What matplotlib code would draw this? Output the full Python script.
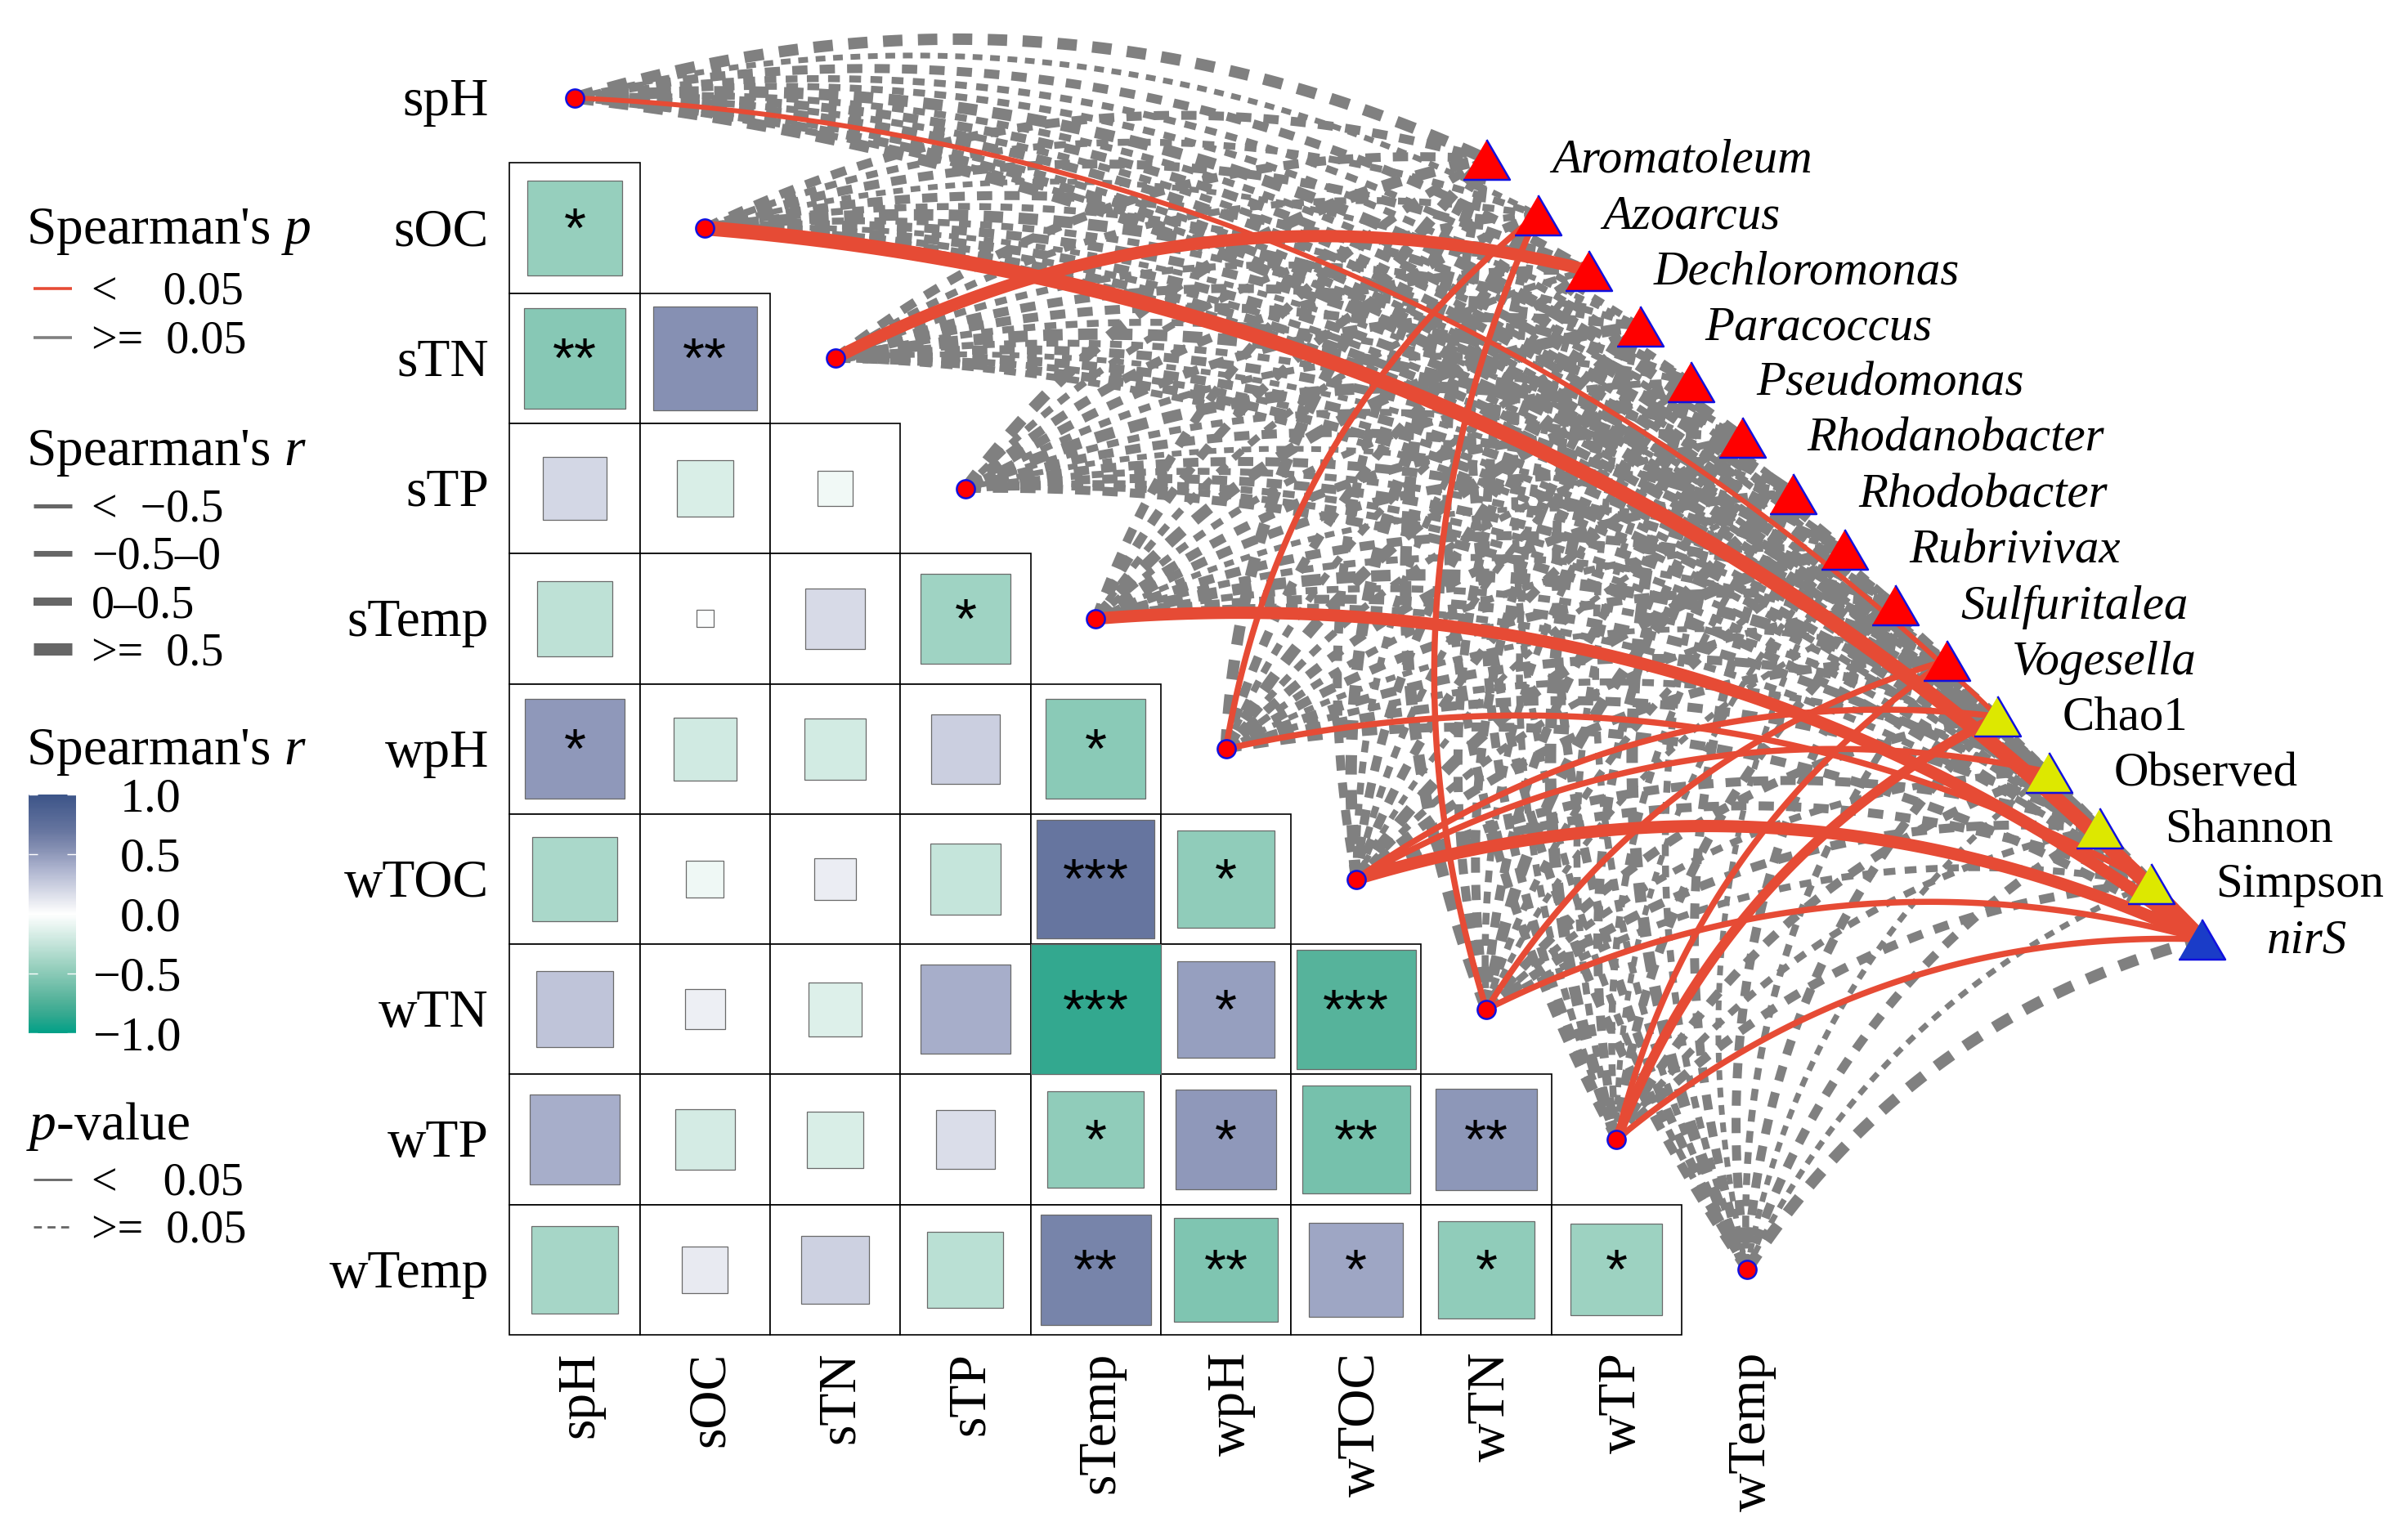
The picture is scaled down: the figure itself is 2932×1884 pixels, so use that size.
import numpy as np
import matplotlib
matplotlib.use("Agg")
import matplotlib.pyplot as plt
from matplotlib.colors import LinearSegmentedColormap, Normalize
from matplotlib.cm import ScalarMappable
from matplotlib.patches import Rectangle

plt.rcParams['font.family'] = ['Liberation Serif', 'DejaVu Serif']
plt.rcParams['mathtext.fontset'] = 'custom'
plt.rcParams['mathtext.it'] = 'Liberation Serif:italic'
plt.rcParams['mathtext.rm'] = 'Liberation Serif'

env = ['spH', 'sOC', 'sTN', 'sTP', 'sTemp', 'wpH', 'wTOC', 'wTN', 'wTP', 'wTemp']
taxa = ['Aromatoleum', 'Azoarcus', 'Dechloromonas', 'Paracoccus', 'Pseudomonas',
        'Rhodanobacter', 'Rhodobacter', 'Rubrivivax', 'Sulfuritalea', 'Vogesella',
        'Chao1', 'Observed', 'Shannon', 'Simpson', 'nirS']
taxa_kind = ['genus'] * 10 + ['index'] * 4 + ['gene']

r_values = [
    [],
    [-.45],
    [-.51, .54],
    [.20, -.16, -.06],
    [-.28, .015, .18, -.41],
    [.50, -.20, -.19, .24, -.50],
    [-.36, -.07, .086, -.25, .70, -.47],
    [.29, .08, -.145, .40, -.85, .47, -.716],
    [.40, -.18, -.16, .17, -.47, .50, -.58, .51],
    [-.38, .106, .23, -.29, .61, -.54, .44, -.47, -.42],
]
stars = [
    [],
    ['*'],
    ['**', '**'],
    ['', '', ''],
    ['', '', '', '*'],
    ['*', '', '', '', '*'],
    ['', '', '', '', '***', '*'],
    ['', '', '', '', '***', '*', '***'],
    ['', '', '', '', '*', '*', '**', '**'],
    ['', '', '', '', '**', '**', '*', '*', '*'],
]

# width class of each non-significant link (rows: env, columns: taxa)
link_width = [
    [4, 1, 3, 2, 2, 4, 2, 3, 2, 3, 1, 2, 3, 2, 4],
    [3, 2, 3, 1, 3, 2, 4, 2, 3, 1, 3, 2, 3, 2, 4],
    [3, 2, 4, 2, 3, 3, 2, 4, 2, 3, 1, 3, 2, 3, 2],
    [4, 2, 3, 3, 2, 4, 2, 3, 1, 3, 2, 3, 2, 2, 3],
    [3, 3, 2, 4, 2, 3, 3, 1, 3, 2, 4, 2, 3, 2, 4],
    [4, 2, 3, 2, 4, 2, 3, 2, 3, 1, 3, 2, 3, 2, 3],
    [3, 4, 2, 3, 2, 3, 1, 4, 2, 3, 2, 2, 3, 3, 4],
    [4, 2, 3, 3, 2, 3, 4, 2, 1, 2, 3, 2, 3, 2, 3],
    [3, 3, 2, 4, 2, 3, 2, 1, 3, 2, 4, 3, 2, 3, 2],
    [3, 2, 3, 2, 4, 2, 3, 1, 3, 2, 3, 1, 3, 1, 4],
]
# links with p < 0.05: (env, taxon, width class)
significant = [
    ('spH', 'Chao1', 1), ('sOC', 'nirS', 5), ('sTN', 'Dechloromonas', 4), ('sTemp', 'nirS', 4),
    ('wpH', 'Azoarcus', 2), ('wpH', 'Simpson', 2), ('wTOC', 'Chao1', 2), ('wTOC', 'Observed', 2),
    ('wTOC', 'nirS', 4), ('wTN', 'Azoarcus', 2), ('wTN', 'Vogesella', 2), ('wTN', 'nirS', 2),
    ('wTP', 'Vogesella', 2), ('wTP', 'Chao1', 3), ('wTP', 'nirS', 2),
]

W, H = 2932, 1884
DPI = 200
PX = 72 / DPI
fig = plt.figure(figsize=(W / DPI, H / DPI), dpi=DPI, facecolor='white')
ax = fig.add_axes([0, 0, 1, 1])
unit = 159.3
x0, y0 = 703.0, 119.7
ax.set_xlim(-x0 / unit, (W - x0) / unit)
ax.set_ylim((H - y0) / unit, -y0 / unit)
ax.axis('off')

RED, GREY, DARK = '#E64B35', '#808080', '#666666'
stops = [(-1, '#00A087'), (-.85, '#33A88F'), (-.716, '#56B39B'), (-.45, '#96CFBD'), (0, '#FFFFFF'),
         (.40, '#A8AFCB'), (.54, '#8791B4'), (.70, '#66759F'), (1, '#3C5488')]
cmap = LinearSegmentedColormap.from_list('r', [((v + 1) / 2, c) for v, c in stops])
norm = Normalize(-1, 1)
grey_lw = {1: 7 * PX, 2: 8.5 * PX, 3: 11 * PX, 4: 14 * PX}
red_lw = {1: 6 * PX, 2: 7.5 * PX, 3: 12 * PX, 4: 15 * PX, 5: 18 * PX}

# correlation matrix
for row, vals in enumerate(r_values):
    for col, r in enumerate(vals):
        ax.add_patch(Rectangle((col - .5, row - .5), 1, 1, fc='white', ec='black', lw=0.6, zorder=1))
for row, vals in enumerate(r_values):
    for col, r in enumerate(vals):
        side = min(1.0, np.sqrt(abs(r) / .85))
        ax.add_patch(Rectangle((col - side / 2, row - side / 2), side, side,
                               fc=cmap(norm(r)), ec='#6a6a6a', lw=0.45, zorder=2))
        if stars[row][col]:
            ax.text(col, row + .03, stars[row][col], family='Liberation Sans', fontsize=25,
                    ha='center', va='center', zorder=3)

for i, name in enumerate(env):
    ax.text(-.66, i + .035, name, ha='right', va='center', fontsize=23.6)
    ax.text(i + .04, 9.63, name, ha='center', va='top', rotation=90, fontsize=23.6)

# link layout
env_x = np.arange(len(env), dtype=float)
env_y = np.arange(len(env), dtype=float)
taxa_x = 7.0 + .3925 * np.arange(len(taxa))
taxa_y = .47 + .428 * np.arange(len(taxa))


def arc(x1, y1, x2, y2, bend=.095):
    t = np.linspace(0, 1, 120)[:, None]
    p1, p2 = np.array([x1, y1]), np.array([x2, y2])
    d = p2 - p1
    n = np.array([d[1], -d[0]])
    c = (p1 + p2) / 2 + 2 * bend * n
    pts = (1 - t) ** 2 * p1 + 2 * t * (1 - t) * c + t ** 2 * p2
    return pts[:, 0], pts[:, 1]


sig = {(a, b) for a, b, _ in significant}
for i, e in enumerate(env):
    for j, tx in enumerate(taxa):
        if (e, tx) in sig:
            continue
        xs, ys = arc(env_x[i], env_y[i], taxa_x[j], taxa_y[j])
        ax.plot(xs, ys, color=GREY, lw=grey_lw[link_width[i][j]],
                ls=(0, (1.7, 1.35)), dash_capstyle='butt', zorder=4)
for e, tx, w in significant:
    i, j = env.index(e), taxa.index(tx)
    xs, ys = arc(env_x[i], env_y[i], taxa_x[j], taxa_y[j])
    ax.plot(xs, ys, color=RED, lw=red_lw[w], solid_capstyle='butt', zorder=5)

ax.plot(env_x, env_y, ls='none', marker='o', ms=8, mfc='#FF0000', mec='#1010E0', mew=.9, zorder=7)
tri = [(-1, -.86), (1, -.86), (0, .86)]
fills = {'genus': '#FF0000', 'index': '#DDE800', 'gene': '#1A3CC8'}
for j, tx in enumerate(taxa):
    ax.plot([taxa_x[j]], [taxa_y[j]], ls='none', marker=tri, ms=20.5,
            mfc=fills[taxa_kind[j]], mec='#1010E0', mew=.9, zorder=8)
    ax.text(taxa_x[j] + .5, taxa_y[j] + .015, tx, fontsize=21.2, ha='left', va='center',
            style='normal' if taxa_kind[j] == 'index' else 'italic', zorder=9)


# legends
def F(x, y):
    return x / 1568, 1 - y / 1008


def ltext(x, y, s, size=20.2):
    fx, fy = F(x, y + 2.5)
    fig.text(fx, fy, s, fontsize=size, ha='left', va='center')


def lkey(y, color, lw, ls='-'):
    a, b = F(22, y), F(47, y)
    fig.add_artist(plt.Line2D([a[0], b[0]], [a[1], b[1]], color=color, lw=lw, ls=ls,
                              solid_capstyle='butt', dash_capstyle='butt'))


ltext(17, 149, r"Spearman's $p$", 23.6)
lkey(189, RED, 1.3)
ltext(60, 189, '<    0.05')
lkey(221, GREY, 1.3)
ltext(60, 221, '>=  0.05')

ltext(17, 294, r"Spearman's $r$", 23.6)
for y, lw, s in zip([331, 362, 394, 425], [1.8, 2.5, 3.6, 5.4],
                    ['<  \u22120.5', '\u22120.5\u20130', '0\u20130.5', '>=  0.5']):
    lkey(y, DARK, lw)
    ltext(60, y, s)

ltext(17, 490, r"Spearman's $r$", 23.6)
(l, b), (r, t) = F(18.6, 676.5), F(49.5, 520)
cax = fig.add_axes([l, b, r - l, t - b])
cbar = fig.colorbar(ScalarMappable(norm, cmap), cax=cax, ticks=[1, .5, 0, -.5, -1])
cbar.outline.set_visible(False)
cbar.set_ticklabels(['1.0', '0.5', '0.0', '\u22120.5', '\u22121.0'])
cax.tick_params(direction='in', color='white', length=4, width=.5, left=True, right=True, pad=46.5, labelsize=21.5)
for lab in cax.get_yticklabels():
    lab.set_ha('right')

ltext(17, 735, r"$p$-value", 23.6)
lkey(772, DARK, 1.0)
ltext(60, 772, '<    0.05')
lkey(803, DARK, 1.0, (0, (3.5, 2.5)))
ltext(60, 803, '>=  0.05')

fig.savefig('out.png', dpi=DPI, facecolor='white')
